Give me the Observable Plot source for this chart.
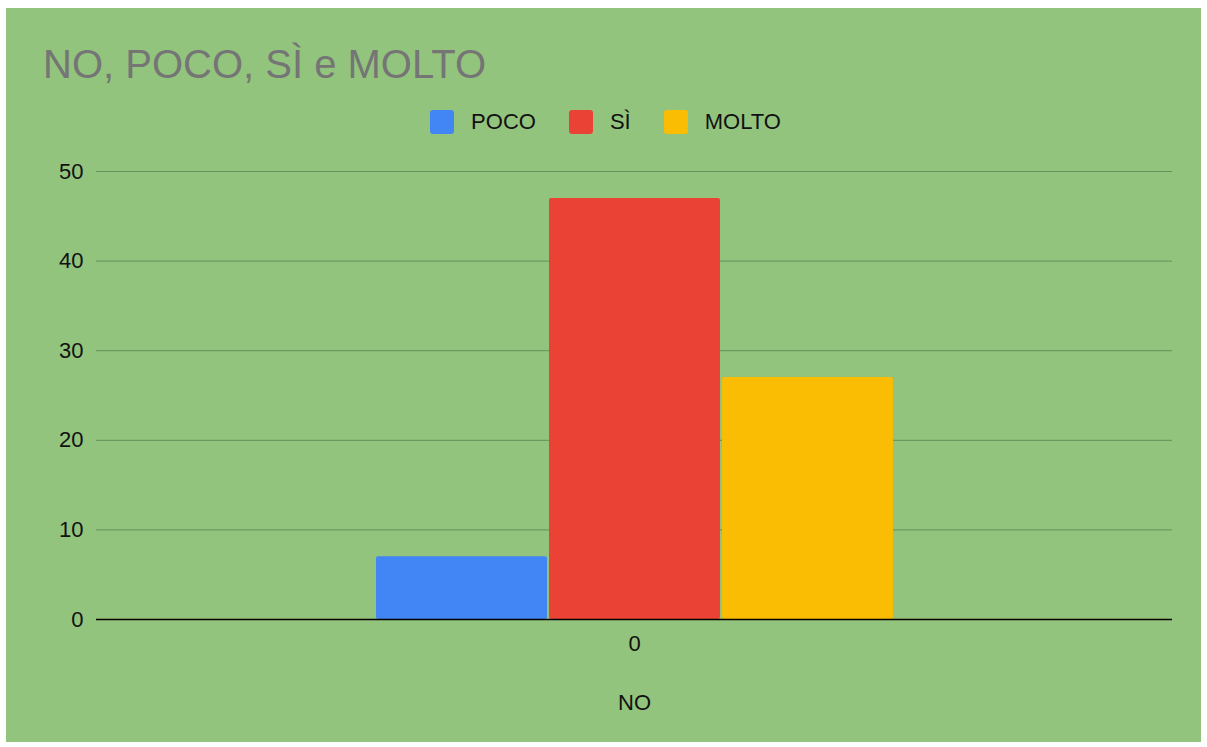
<!DOCTYPE html>
<html><head><meta charset="utf-8">
<script src="https://cdn.jsdelivr.net/npm/d3@7"></script>
<script src="https://cdn.jsdelivr.net/npm/@observablehq/plot@0.6"></script>
<style>
body{margin:0;background:#fff;font-family:"Liberation Sans",Arial,sans-serif;}
#card{position:absolute;left:6px;top:8px;width:1195px;height:734px;background:#93c47d;overflow:hidden;}
#title{position:absolute;left:37px;top:36px;font-size:40px;line-height:40px;color:#757575;white-space:nowrap;}
#legend{position:absolute;top:102px;left:0;width:100%;display:flex;justify-content:center;padding-left:4px;box-sizing:border-box;}
#legend .item{display:flex;align-items:center;margin-right:33px;font-size:22px;color:#111;height:24px;}
#legend .item:last-child{margin-right:0;}
#legend .sw{width:24px;height:24px;border-radius:3px;margin-right:17px;}
#chart{position:absolute;left:0;top:142px;}
</style>
</head><body>
<div id="card">
  <div id="title">NO, POCO, SÌ e MOLTO</div>
  <div id="legend"></div>
  <div id="chart"></div>
</div>
<script>
const categories = ["0"];
const categoryTitle = "NO";
const series = ["POCO", "SÌ", "MOLTO"];
const values = [7, 47, 27];
const colors = ["#4285f4", "#ea4335", "#fbbc04"];
const yTicks = [0, 10, 20, 30, 40, 50];

const data = series.map((s, i) => ({cat: categories[0], series: s, value: values[i]}));

const legend = document.getElementById("legend");
series.forEach((s, i) => {
  const item = document.createElement("div");
  item.className = "item";
  const sw = document.createElement("div");
  sw.className = "sw";
  sw.style.background = colors[i];
  item.appendChild(sw);
  item.appendChild(document.createTextNode(s));
  legend.appendChild(item);
});

const chart = Plot.plot({
  width: 1195,
  height: 580,
  marginLeft: 90,
  marginRight: 29,
  marginTop: 21,
  marginBottom: 111,
  style: {background: "transparent", fontSize: "22px", fontFamily: "'Liberation Sans', Arial, sans-serif", color: "#111"},
  fx: {domain: categories, padding: 0, label: categoryTitle},
  x: {domain: series, paddingInner: 0.012, paddingOuter: 1.61, axis: null},
  y: {domain: [0, 50]},
  color: {domain: series, range: colors},
  marks: [
    Plot.gridY(yTicks.filter(d => d !== 0), {stroke: "#62915a", strokeOpacity: 1, strokeWidth: 1}),
    Plot.axisY(yTicks, {tickSize: 0, tickPadding: 13, label: null}),
    Plot.axisFx({anchor: "bottom", tickSize: 0, tickPadding: 16, label: categoryTitle, labelAnchor: "center", labelOffset: 90}),
    Plot.barY(data, {fx: "cat", x: "series", y: "value", fill: "series", rx: 2}),
    Plot.ruleY([0], {stroke: "#000", strokeWidth: 1.5})
  ]
});
document.getElementById("chart").appendChild(chart);
</script>
</body></html>
